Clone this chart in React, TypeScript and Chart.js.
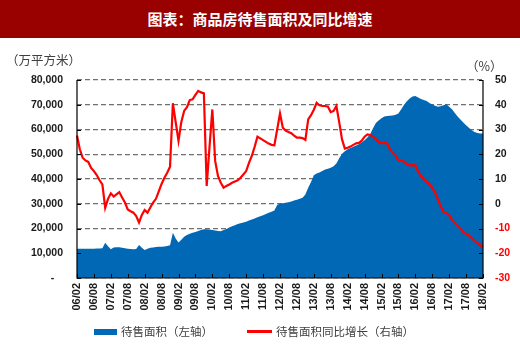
import React, { useEffect, useRef } from 'react';
import { Chart, registerables } from 'chart.js';

Chart.register(...registerables);

const TITLE = '图表：商品房待售面积及同比增速';
const LEFT_UNIT = '（万平方米）';
const RIGHT_UNIT = '（%）';
const AREA_LABEL = '待售面积（左轴）';
const LINE_LABEL = '待售面积同比增长（右轴）';

const TICK_LABELS = [
  '06/02', '06/08', '07/02', '07/08', '08/02', '08/08', '09/02', '09/08', '10/02', '10/08',
  '11/02', '11/08', '12/02', '12/08', '13/02', '13/08', '14/02', '14/08', '15/02', '15/08',
  '16/02', '16/08', '17/02', '17/08', '18/02',
];

const START_YEAR = 2006;
const END_YEAR = 2018;
const MONTHS: string[] = [];
for (let y = START_YEAR; y <= END_YEAR; y++) {
  for (let m = 1; m <= 12; m++) {
    if (y === START_YEAR && m < 2) continue;
    if (y === END_YEAR && m > 2) continue;
    MONTHS.push(String(y % 100).padStart(2, '0') + '/' + String(m).padStart(2, '0'));
  }
}

// 待售面积（万平方米）
const SALE_AREA = [
  11800, 11800, 11800, 11850, 11800, 11850, 11850, 11900, 11900, 12000,
  14200, 12800, 11600, 12300, 12400, 12400, 12200, 12000, 11800, 11700,
  11600, 11700, 13300, 12200, 11300, 11800, 12200, 12300, 12500, 12600,
  12600, 12700, 12900, 13200, 18300, 16000, 14300, 15500, 16700, 17400,
  17900, 18300, 18600, 19000, 19400, 19700, 19700, 19600, 19400, 19200,
  19000, 18900, 19400, 19800, 20400, 20900, 21300, 21800, 22100, 22400,
  22700, 23200, 23600, 24000, 24500, 25000, 25400, 25900, 26400, 26800,
  27300, 29500, 30100, 30200, 30400, 30600, 30900, 31300, 31600, 32000,
  32400, 33700, 36500, 38800, 41500, 42200, 42600, 43200, 43800, 44100,
  44500, 45200, 46300, 48400, 50200, 51200, 52000, 52500, 53000, 53500,
  54000, 54800, 55700, 56800, 58200, 60500, 62600, 63600, 64500, 65300,
  65500, 65600, 65700, 66000, 66500, 68200, 70000, 71400, 72500, 73300,
  73500, 72900, 72300, 71900, 71500, 70700, 70100, 69600, 69200, 69400,
  69800, 70200, 69200, 68200, 66700, 65300, 64000, 62800, 61700, 60700,
  59700, 59000, 58600, 58400, 58400,
];

// 待售面积同比增长（%）
const SALE_AREA_YOY = [
  27.6, 22, 18.6, 17.5, 16.9, 14.5, 13.2, 11.6, 9.5, 7.8,
  -1.6, 2, 4.2, 2.9, 3.8, 4.7, 2.5, 0.5, -2.3, -3,
  -3.6, -5, -7.6, -4.5, -2.5, -3.6, -1.5, 0.5, 2, 5,
  8, 10.5, 12.5, 15, 40.6, 33, 25.4, 33, 37.5, 39,
  41.9, 42.2, 44, 45.6, 45, 44.6, 7.2, 23, 38.1, 17.3,
  11.2, 8.5, 6.5, 7.2, 7.8, 8.5, 9, 9.5, 10.5, 11.8,
  13.2, 16.5, 19.3, 23, 27.1, 26.4, 25.7, 25, 24.3, 23.8,
  23.6, 30, 36.5, 30.7, 29.6, 29, 28.5, 27.5, 26.7, 26.7,
  26.5, 25.8, 34.1, 35.8, 38, 40.8, 39.8, 39.5, 39.5, 39.2,
  37, 37.5, 39.5, 33, 26, 22.3, 22.6, 23.1, 23.8, 24.4,
  24.6, 25.5, 27.1, 28, 27.8, 27.1, 26, 25, 24.4, 24.6,
  24.5, 22, 20.5, 19.5, 17.5, 17.5, 17, 16, 15.5, 15.6,
  15.5, 13, 11.2, 10, 9, 7.8, 6.5, 4.5, 1.8, -1,
  -3.3, -3.8, -4.5, -6.6, -7.7, -9, -10, -11.4, -12.2, -12.8,
  -13.8, -15, -15.8, -16.8, -17.5,
];

const BLUE = '#0068B5';
const RED = '#FF0000';
const TICK_FONT = '"Liberation Sans", Arial, sans-serif';
const CJK_FONT = '"Noto Sans CJK SC", "Noto Sans", sans-serif';

const framePlugin = {
  id: 'frame',
  afterDatasetsDraw(chart: any) {
    const { ctx, chartArea } = chart;
    const { left, right, top, bottom } = chartArea;
    const x = chart.scales.x;
    const y = chart.scales.y;
    const y1 = chart.scales.y1;
    ctx.save();
    ctx.strokeStyle = '#000';
    ctx.lineWidth = 1.2;
    ctx.beginPath();
    ctx.moveTo(left, top);
    ctx.lineTo(left, bottom);
    ctx.lineTo(right, bottom);
    ctx.lineTo(right, top);
    ctx.stroke();
    ctx.lineWidth = 1;
    ctx.beginPath();
    y.ticks.forEach((_t: any, i: number) => {
      const py = Math.round(y.getPixelForTick(i)) + 0.5;
      ctx.moveTo(left, py);
      ctx.lineTo(left + 4, py);
    });
    y1.ticks.forEach((_t: any, i: number) => {
      const py = Math.round(y1.getPixelForTick(i)) + 0.5;
      ctx.moveTo(right - 4, py);
      ctx.lineTo(right, py);
    });
    x.ticks.forEach((_t: any, i: number) => {
      const px = Math.round(x.getPixelForTick(i)) + 0.5;
      ctx.moveTo(px, bottom);
      ctx.lineTo(px, bottom - 4);
    });
    ctx.stroke();
    ctx.restore();
  },
};

export default function App() {
  const ref = useRef<HTMLCanvasElement>(null);

  useEffect(() => {
    const chart = new Chart(ref.current as HTMLCanvasElement, {
      type: 'line',
      data: {
        labels: MONTHS,
        datasets: [
          {
            label: LINE_LABEL,
            data: SALE_AREA_YOY,
            yAxisID: 'y1',
            borderColor: RED,
            borderWidth: 2.2,
            pointRadius: 0,
            tension: 0,
            fill: false,
            order: 0,
          },
          {
            label: AREA_LABEL,
            data: SALE_AREA,
            yAxisID: 'y',
            borderColor: BLUE,
            backgroundColor: BLUE,
            borderWidth: 0,
            pointRadius: 0,
            tension: 0,
            fill: 'origin',
            order: 1,
          },
        ],
      },
      options: {
        responsive: false,
        animation: false,
        devicePixelRatio: 1,
        layout: { padding: { top: 42, left: 0, right: 0, bottom: 0 } },
        plugins: {
          legend: { display: false },
          tooltip: { enabled: false },
        },
        scales: {
          x: {
            type: 'category',
            offset: false,
            afterBuildTicks: (axis: any) => {
              axis.ticks = axis.ticks.filter((t: any) => TICK_LABELS.includes(MONTHS[t.value]));
            },
            afterFit: (axis: any) => {
              axis.height = 81;
            },
            grid: { display: true, drawOnChartArea: false, drawTicks: false },
            border: { display: false },
            ticks: {
              autoSkip: false,
              minRotation: 90,
              maxRotation: 90,
              padding: 5,
              color: '#1a1a1a',
              font: { family: TICK_FONT, size: 11, weight: 'bold' },
            },
          },
          y: {
            position: 'left',
            min: 0,
            max: 80000,
            afterFit: (axis: any) => {
              axis.width = 77;
            },
            grid: { color: '#707070', lineWidth: 1.3, drawTicks: false },
            border: { display: false, dash: [5, 3] },
            ticks: {
              stepSize: 10000,
              padding: 14,
              color: '#1a1a1a',
              font: { family: TICK_FONT, size: 10.5, weight: 'bold' },
              callback: (v: any) => (Number(v) === 0 ? '-   ' : Number(v).toLocaleString('en-US')),
            },
          },
          y1: {
            position: 'right',
            min: -30,
            max: 50,
            afterFit: (axis: any) => {
              axis.width = 37;
            },
            grid: { drawOnChartArea: false, drawTicks: false },
            border: { display: false },
            ticks: {
              stepSize: 10,
              padding: 12,
              color: (c: any) => (c.tick && c.tick.value < 0 ? RED : '#1a1a1a'),
              font: { family: TICK_FONT, size: 10.5, weight: 'bold' },
              callback: (v: any) => String(v),
            },
          },
        },
      },
      plugins: [framePlugin],
    } as any);
    return () => chart.destroy();
  }, []);

  return (
    <div
      style={{
        position: 'fixed',
        left: 0,
        top: 0,
        width: 520,
        height: 359,
        background: '#fff',
        overflow: 'hidden',
        fontFamily: CJK_FONT,
      }}
    >
      <div
        style={{
          position: 'absolute',
          left: 0,
          top: 0,
          width: 520,
          height: 38,
          background: '#990000',
          color: '#fff',
          fontWeight: 'bold',
          fontSize: 15,
          lineHeight: '38px',
          textAlign: 'center',
          fontFamily: CJK_FONT,
        }}
      >
        {TITLE}
      </div>
      <canvas
        ref={ref}
        width={520}
        height={321}
        style={{ position: 'absolute', left: 0, top: 38, width: 520, height: 321 }}
      />
      <div
        style={{
          position: 'absolute',
          left: 6,
          top: 51,
          fontSize: 12.5,
          lineHeight: '18px',
          color: '#404040',
          whiteSpace: 'nowrap',
        }}
      >
        {LEFT_UNIT}
      </div>
      <div
        style={{
          position: 'absolute',
          left: 466,
          top: 57,
          fontSize: 12.5,
          lineHeight: '18px',
          color: '#404040',
          whiteSpace: 'nowrap',
        }}
      >
        {RIGHT_UNIT}
      </div>
      <div style={{ position: 'absolute', left: 94, top: 329, width: 23, height: 6, background: BLUE }} />
      <div
        style={{
          position: 'absolute',
          left: 121,
          top: 323,
          fontSize: 11.5,
          lineHeight: '16px',
          color: '#404040',
          whiteSpace: 'nowrap',
        }}
      >
        {AREA_LABEL}
      </div>
      <div style={{ position: 'absolute', left: 247, top: 330, width: 25, height: 2.5, background: RED }} />
      <div
        style={{
          position: 'absolute',
          left: 276,
          top: 323,
          fontSize: 11.5,
          lineHeight: '16px',
          color: '#404040',
          whiteSpace: 'nowrap',
        }}
      >
        {LINE_LABEL}
      </div>
    </div>
  );
}
